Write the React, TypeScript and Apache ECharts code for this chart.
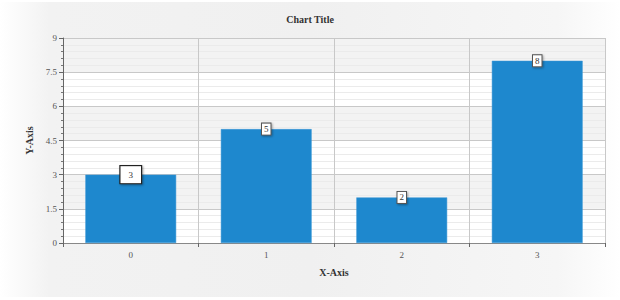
import React, { useEffect, useRef } from "react";
import * as echarts from "echarts";

const categories = ["0", "1", "2", "3"];
const values = [3, 5, 2, 8];
const chartTitle = "Chart Title";
const xAxisName = "X-Axis";
const yAxisName = "Y-Axis";

const FONT = "'Liberation Serif', 'DejaVu Serif', serif";

export default function App() {
  const ref = useRef<HTMLDivElement>(null);
  useEffect(() => {
    document.body.style.margin = "0";
    const chart = echarts.init(ref.current!, undefined, { renderer: "svg" });
    const baseLabel = {
      show: true,
      position: ["50%", 0] as any,
      align: "center",
      verticalAlign: "middle",
      color: "#333",
      fontFamily: FONT,
      fontSize: 9,
      backgroundColor: "#ffffff",
      borderColor: "#555",
      borderWidth: 1,
      borderRadius: 0,
      padding: [1, 2],
      shadowColor: "rgba(0,0,0,0.35)",
      shadowBlur: 2,
      shadowOffsetX: 1,
      shadowOffsetY: 1,
    };
    chart.setOption({
      animation: false,
      graphic: [
        {
          type: "rect",
          silent: true,
          z: -10,
          shape: { x: 0, y: 2, width: 620, height: 295 },
          style: {
            fill: new echarts.graphic.LinearGradient(0, 0, 1, 0, [
              { offset: 0, color: "#ffffff" },
              { offset: 0.08, color: "#f2f2f2" },
              { offset: 0.5, color: "#f0f0f0" },
              { offset: 0.9, color: "#f6f6f6" },
              { offset: 1, color: "#ffffff" },
            ]),
          },
        },
      ],
      title: {
        text: chartTitle,
        left: "center",
        top: 9,
        textStyle: { fontFamily: FONT, fontSize: 10, fontWeight: "bold", color: "#333" },
      },
      grid: { left: 63, right: 15, top: 38, bottom: 57 },
      xAxis: {
        type: "category",
        data: categories,
        name: xAxisName,
        nameLocation: "middle",
        nameGap: 24,
        nameTextStyle: { fontFamily: FONT, fontSize: 10, fontWeight: "bold", color: "#333" },
        axisLine: { lineStyle: { color: "#888", width: 1 } },
        axisTick: { show: true, length: 4, lineStyle: { color: "#666" } },
        axisLabel: { fontFamily: FONT, fontSize: 9, color: "#555", margin: 7 },
        splitLine: { show: true, lineStyle: { color: "#c8c8c8", width: 1 } },
      },
      yAxis: {
        type: "value",
        min: 0,
        max: 9,
        interval: 1.5,
        name: yAxisName,
        nameLocation: "middle",
        nameGap: 28,
        nameTextStyle: { fontFamily: FONT, fontSize: 10, fontWeight: "bold", color: "#333" },
        axisLine: { show: true, lineStyle: { color: "#666", width: 1 } },
        axisTick: { show: true, length: 4, lineStyle: { color: "#666" } },
        minorTick: { show: true, splitNumber: 5, length: 2, lineStyle: { color: "#777" } },
        axisLabel: { fontFamily: FONT, fontSize: 9, color: "#555", margin: 6 },
        splitLine: { show: true, lineStyle: { color: "#c8c8c8", width: 1 } },
        minorSplitLine: { show: true, lineStyle: { color: "#ebebeb", width: 1 } },
        splitArea: { show: true, areaStyle: { color: ["#ffffff", "#f3f3f3"] } },
      },
      series: [
        {
          type: "bar",
          barCategoryGap: "33%",
          itemStyle: { color: "#1e88ce", borderColor: "#3a97d6", borderWidth: 0.5 },
          label: baseLabel,
          data: values.map((v, i) =>
            i === 0
              ? {
                  value: v,
                  label: { padding: [4, 8], borderColor: "#222", borderWidth: 1.2 },
                }
              : v
          ),
        },
      ],
    });
    return () => chart.dispose();
  }, []);
  return <div ref={ref} style={{ width: 620, height: 300 }} />;
}
